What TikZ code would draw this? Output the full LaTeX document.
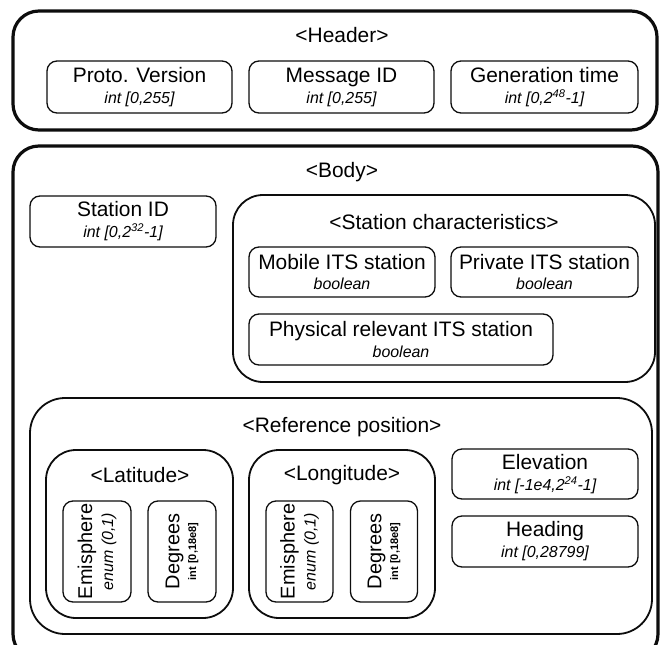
\documentclass[tikz,border=0pt]{standalone}
\usepackage{fontspec}
\setmainfont{Liberation Sans}
\definecolor{boxBlack}{gray}{0.05}
\newcommand{\typetext}[1]{{\fontsize{16}{18}\selectfont\itshape #1}}
\newcommand{\tinytype}[1]{{\fontsize{11}{12}\selectfont\bfseries #1}}

\begin{document}
\begin{tikzpicture}[x=1bp, y=-1bp, line join=round,
    field/.style={draw=boxBlack, line width=1.3bp, rounded corners=10bp, align=center, inner sep=0pt, font=\fontsize{21}{21}\selectfont},
    group/.style={draw=boxBlack, line width=1.8bp},
    frame/.style={draw=boxBlack, line width=3.2bp, rounded corners=26bp},
    title/.style={font=\fontsize{21}{21}\selectfont, inner sep=0pt}]
    \useasboundingbox (0,0) rectangle (660,645);
    \clip (0,0) rectangle (660,645);

    % header
    \draw[frame] (13,11) rectangle (657,130);
    \node[title] (header) at (342,35) {<Header>};
    \node[field, minimum width=185bp, minimum height=52bp] (proto) at (139.5,87) {Proto. Version\\\typetext{int [0,255]}};
    \node[field, minimum width=185bp, minimum height=52bp] (msgid) at (341.5,87) {Message ID\\\typetext{int [0,255]}};
    \node[field, minimum width=187bp, minimum height=52bp] (gentime) at (544.5,87) {Generation time\\\typetext{int [0,2\textsuperscript{48}-1]}};

    % body
    \draw[frame] (13,146) rectangle (658,660);
    \node[title] (body) at (342,172) {<Body>};
    \node[field, minimum width=186bp, minimum height=51bp] (stationid) at (123,221.5) {Station ID\\\typetext{int [0,2\textsuperscript{32}-1]}};

    \draw[group, rounded corners=30bp] (233,195) rectangle (655,382);
    \node[title] (stationchar) at (444,222) {<Station characteristics>};
    \node[field, minimum width=186bp, minimum height=50bp] (mobile) at (342,272) {Mobile ITS station\\\typetext{boolean}};
    \node[field, minimum width=187bp, minimum height=50bp] (private) at (544.5,272) {Private ITS station\\\typetext{boolean}};
    \node[field, minimum width=304bp, minimum height=51bp] (physical) at (401,339.5) {Physical relevant ITS station\\\typetext{boolean}};

    \draw[group, rounded corners=35bp] (30,398) rectangle (652,634);
    \node[title] (refpos) at (342,427) {<Reference position>};

    \draw[group, rounded corners=30bp] (46,450) rectangle (233,618);
    \node[title] (latitude) at (140,475) {<Latitude>};
    \node[field, rotate=90, minimum width=101bp, minimum height=68bp] (latemis) at (97,551.5) {\fontsize{20}{20}\selectfont Emisphere\\\typetext{enum (0,1)}};
    \node[field, rotate=90, minimum width=101bp, minimum height=68bp] (latdeg) at (182,551.5) {\fontsize{20}{20}\selectfont Degrees\\[-4bp]\tinytype{int [0,18e8]}};

    \draw[group, rounded corners=30bp] (249,450) rectangle (435,618);
    \node[title] (longitude) at (342,475) {<Longitude>};
    \node[field, rotate=90, minimum width=101bp, minimum height=67bp] (lonemis) at (299.5,551.5) {\fontsize{20}{20}\selectfont Emisphere\\\typetext{enum (0,1)}};
    \node[field, rotate=90, minimum width=101bp, minimum height=67bp] (londeg) at (384,551.5) {\fontsize{20}{20}\selectfont Degrees\\[-4bp]\tinytype{int [0,18e8]}};

    \node[field, minimum width=186bp, minimum height=50bp] (elevation) at (545,474) {Elevation\\\typetext{int [-1e4,2\textsuperscript{24}-1]}};
    \node[field, minimum width=186bp, minimum height=51bp] (heading) at (545,541.5) {Heading\\\typetext{int [0,28799]}};
\end{tikzpicture}
\end{document}
